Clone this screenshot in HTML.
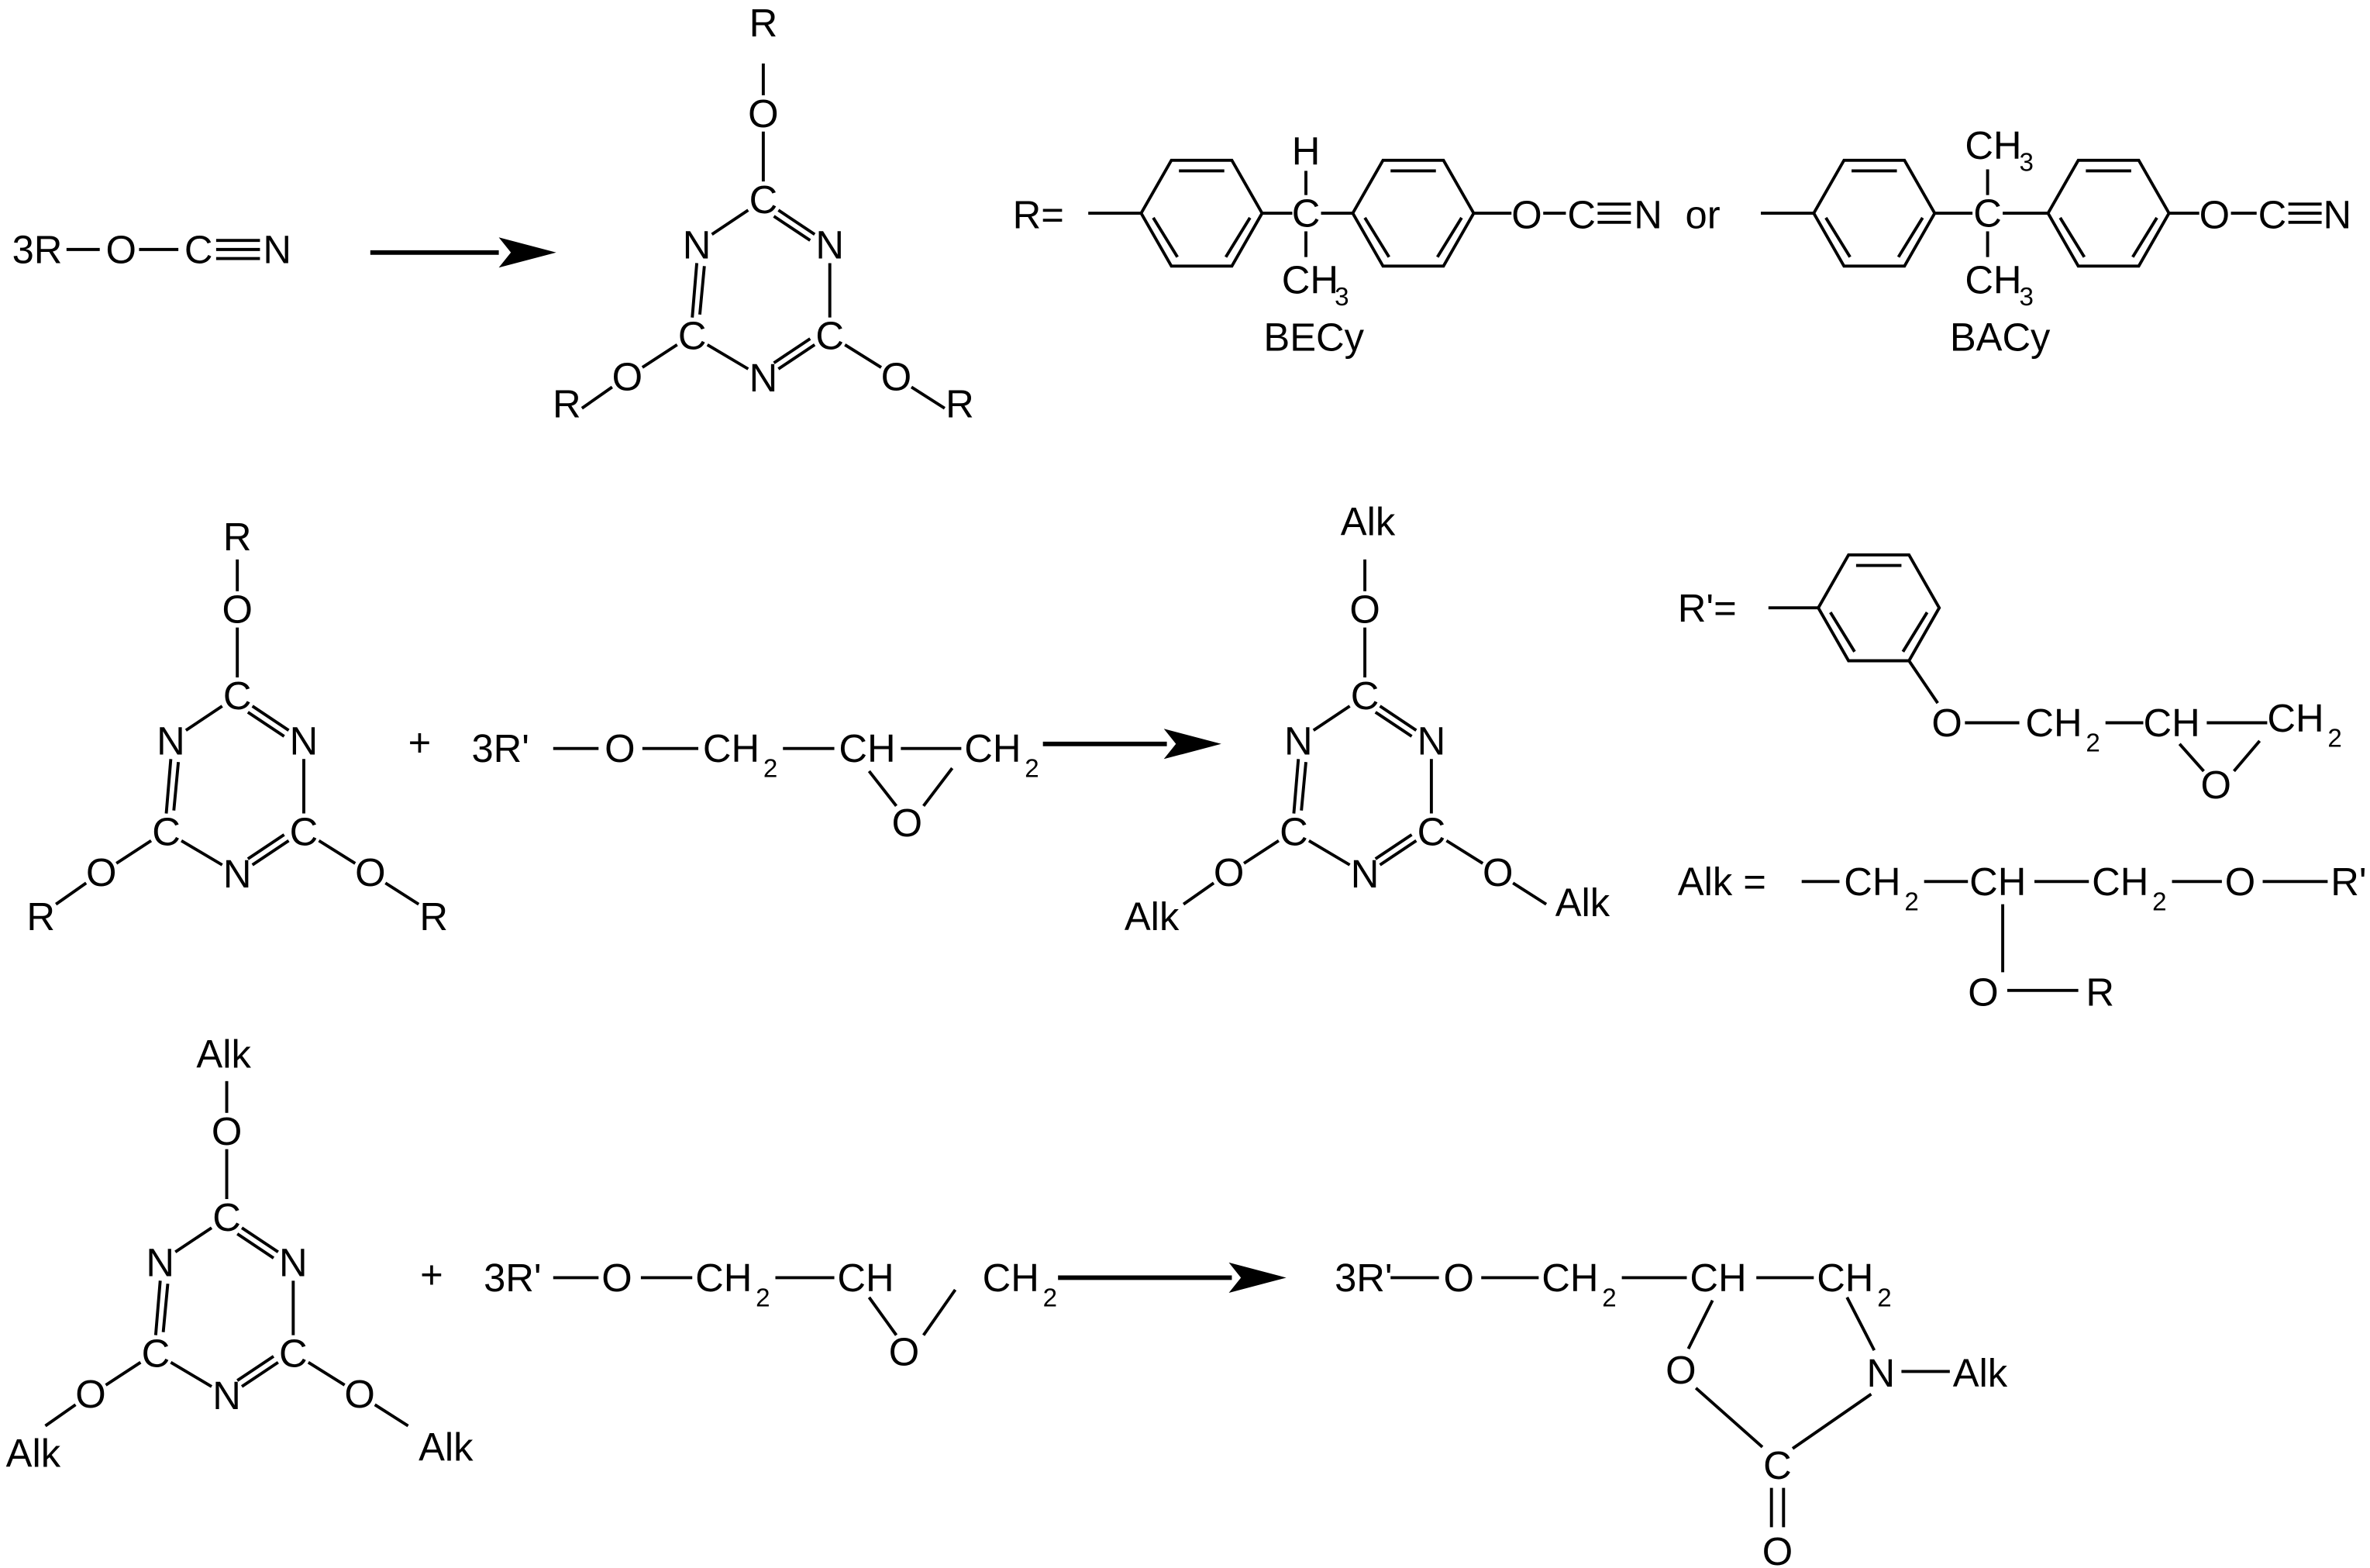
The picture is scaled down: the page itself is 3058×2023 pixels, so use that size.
<!DOCTYPE html>
<html><head><meta charset="utf-8"><style>
html,body{margin:0;padding:0;background:#fff;}
svg{display:block;}
text{font-family:"Liberation Sans",Arial,sans-serif;font-size:26px;fill:#000;}
.s{font-size:17px;}
</style></head><body>
<svg width="3058" height="2023" viewBox="0 0 1568 1037" preserveAspectRatio="none" xmlns="http://www.w3.org/2000/svg">
<defs>
<g id="ring" stroke="#000" stroke-width="2" fill="none">
<line x1="-10" y1="7" x2="-34" y2="23"/>
<line x1="10" y1="7" x2="34" y2="23"/>
<line x1="7" y1="11" x2="31" y2="27"/>
<line x1="-44" y1="42" x2="-47" y2="78"/>
<line x1="-39" y1="44" x2="-42" y2="76"/>
<line x1="44" y1="42" x2="44" y2="78"/>
<line x1="-37" y1="96" x2="-10" y2="112"/>
<line x1="34" y1="96" x2="10" y2="112"/>
<line x1="31" y1="92" x2="7" y2="108"/>
<line x1="0" y1="-12" x2="0" y2="-45"/>
<line x1="0" y1="-69" x2="0" y2="-90"/>
<line x1="-57" y1="96" x2="-80" y2="111"/>
<line x1="-100" y1="124" x2="-120" y2="138"/>
<line x1="54" y1="96" x2="78" y2="111"/>
<line x1="98" y1="124" x2="120" y2="138"/>
</g>
<g id="ringtext">
<text x="0" y="9" text-anchor="middle">C</text>
<text x="-44" y="39" text-anchor="middle">N</text>
<text x="44" y="39" text-anchor="middle">N</text>
<text x="-47" y="99" text-anchor="middle">C</text>
<text x="44" y="99" text-anchor="middle">C</text>
<text x="0" y="127" text-anchor="middle">N</text>
<text x="0" y="-48" text-anchor="middle">O</text>
<text x="-90" y="126" text-anchor="middle">O</text>
<text x="88" y="126" text-anchor="middle">O</text>
</g>
<g id="bz" stroke="#000" stroke-width="2" fill="none">
<polygon points="-40,0 -20,-35 20,-35 40,0 20,35 -20,35"/>
<line x1="-15" y1="-28" x2="15" y2="-28"/>
<line x1="32" y1="3" x2="16" y2="29"/>
<line x1="-16" y1="29" x2="-32" y2="3"/>
</g>
<marker id="ah" markerWidth="10" markerHeight="8" refX="10" refY="4" orient="auto" markerUnits="userSpaceOnUse"><path d="M0,0 L10,4 L0,8z" fill="#000"/></marker>
</defs>

<!-- Row 1 -->
<text x="8" y="174">3R</text>
<line x1="44" y1="165" x2="66" y2="165" stroke="#000" stroke-width="2"/>
<text x="70" y="174">O</text>
<line x1="92" y1="165" x2="118" y2="165" stroke="#000" stroke-width="2"/>
<text x="122" y="174">C</text>
<g stroke="#000" stroke-width="2"><line x1="143" y1="159" x2="172" y2="159"/><line x1="143" y1="165" x2="172" y2="165"/><line x1="143" y1="171" x2="172" y2="171"/></g>
<text x="174" y="174">N</text>
<line x1="245" y1="167" x2="330" y2="167" stroke="#000" stroke-width="3"/>
<path d="M330,157 L368,167 L330,177 L338,167z" fill="#000"/>

<use href="#ring" transform="translate(505,132)"/>
<use href="#ringtext" transform="translate(505,132)"/>
<text x="505" y="24" text-anchor="middle">R</text>
<text x="375" y="276" text-anchor="middle">R</text>
<text x="635" y="276" text-anchor="middle">R</text>

<text x="670" y="151">R=</text>
<line x1="720" y1="141" x2="755" y2="141" stroke="#000" stroke-width="2"/>
<use href="#bz" transform="translate(795,141)"/>
<line x1="835" y1="141" x2="855" y2="141" stroke="#000" stroke-width="2"/>
<text x="864" y="150" text-anchor="middle">C</text>
<text x="864" y="109" text-anchor="middle">H</text>
<line x1="864" y1="113" x2="864" y2="129" stroke="#000" stroke-width="2"/>
<line x1="864" y1="153" x2="864" y2="170" stroke="#000" stroke-width="2"/>
<text x="848" y="194">CH</text><text x="883" y="202" class="s">3</text>
<line x1="874" y1="141" x2="895" y2="141" stroke="#000" stroke-width="2"/>
<use href="#bz" transform="translate(935,141)"/>
<line x1="975" y1="141" x2="1000" y2="141" stroke="#000" stroke-width="2"/>
<text x="1000" y="151">O</text>
<line x1="1021" y1="141" x2="1036" y2="141" stroke="#000" stroke-width="2"/>
<text x="1037" y="151">C</text>
<g stroke="#000" stroke-width="2"><line x1="1057" y1="135" x2="1079" y2="135"/><line x1="1057" y1="141" x2="1079" y2="141"/><line x1="1057" y1="147" x2="1079" y2="147"/></g>
<text x="1081" y="151">N</text>
<text x="1115" y="151">or</text>
<text x="836" y="232">BECy</text>

<line x1="1165" y1="141" x2="1200" y2="141" stroke="#000" stroke-width="2"/>
<use href="#bz" transform="translate(1240,141)"/>
<line x1="1280" y1="141" x2="1305" y2="141" stroke="#000" stroke-width="2"/>
<text x="1315" y="150" text-anchor="middle">C</text>
<line x1="1315" y1="112" x2="1315" y2="129" stroke="#000" stroke-width="2"/>
<line x1="1315" y1="153" x2="1315" y2="170" stroke="#000" stroke-width="2"/>
<text x="1300" y="105">CH</text><text x="1336" y="113" class="s">3</text>
<text x="1300" y="194">CH</text><text x="1336" y="202" class="s">3</text>
<line x1="1325" y1="141" x2="1355" y2="141" stroke="#000" stroke-width="2"/>
<use href="#bz" transform="translate(1395,141)"/>
<line x1="1435" y1="141" x2="1455" y2="141" stroke="#000" stroke-width="2"/>
<text x="1455" y="151">O</text>
<line x1="1476" y1="141" x2="1493" y2="141" stroke="#000" stroke-width="2"/>
<text x="1494" y="151">C</text>
<g stroke="#000" stroke-width="2"><line x1="1514" y1="135" x2="1536" y2="135"/><line x1="1514" y1="141" x2="1536" y2="141"/><line x1="1514" y1="147" x2="1536" y2="147"/></g>
<text x="1537" y="151">N</text>
<text x="1290" y="232">BACy</text>

<!-- Row 2 -->
<use href="#ring" transform="translate(157,460)"/>
<use href="#ringtext" transform="translate(157,460)"/>
<text x="157" y="364" text-anchor="middle">R</text>
<text x="27" y="615" text-anchor="middle">R</text>
<text x="287" y="615" text-anchor="middle">R</text>
<text x="270" y="500">+</text>
<text x="312" y="504">3R'</text>
<line x1="366" y1="495" x2="396" y2="495" stroke="#000" stroke-width="2"/>
<text x="400" y="504">O</text>
<line x1="425" y1="495" x2="462" y2="495" stroke="#000" stroke-width="2"/>
<text x="465" y="504">CH</text><text x="505" y="514" class="s">2</text>
<line x1="518" y1="495" x2="552" y2="495" stroke="#000" stroke-width="2"/>
<text x="555" y="504">CH</text>
<line x1="596" y1="495" x2="636" y2="495" stroke="#000" stroke-width="2"/>
<text x="638" y="504">CH</text><text x="678" y="514" class="s">2</text>
<text x="590" y="553">O</text>
<line x1="575" y1="510" x2="593" y2="533" stroke="#000" stroke-width="2"/>
<line x1="630" y1="508" x2="611" y2="533" stroke="#000" stroke-width="2"/>
<line x1="690" y1="492" x2="772" y2="492" stroke="#000" stroke-width="3"/>
<path d="M770,482 L808,492 L770,502 L778,492z" fill="#000"/>

<use href="#ring" transform="translate(903,460)"/>
<use href="#ringtext" transform="translate(903,460)"/>
<text x="905" y="354" text-anchor="middle">Alk</text>
<text x="762" y="615" text-anchor="middle">Alk</text>
<text x="1047" y="606" text-anchor="middle">Alk</text>

<text x="1110" y="411">R'=</text>
<line x1="1170" y1="402" x2="1203" y2="402" stroke="#000" stroke-width="2"/>
<use href="#bz" transform="translate(1243,402)"/>
<line x1="1263" y1="437" x2="1282" y2="465" stroke="#000" stroke-width="2"/>
<text x="1278" y="487">O</text>
<line x1="1300" y1="478" x2="1336" y2="478" stroke="#000" stroke-width="2"/>
<text x="1340" y="487">CH</text><text x="1380" y="497" class="s">2</text>
<line x1="1393" y1="478" x2="1418" y2="478" stroke="#000" stroke-width="2"/>
<text x="1418" y="487">CH</text>
<line x1="1460" y1="478" x2="1500" y2="478" stroke="#000" stroke-width="2"/>
<text x="1500" y="484">CH</text><text x="1540" y="494" class="s">2</text>
<text x="1456" y="528">O</text>
<line x1="1442" y1="492" x2="1458" y2="510" stroke="#000" stroke-width="2"/>
<line x1="1495" y1="490" x2="1478" y2="510" stroke="#000" stroke-width="2"/>

<text x="1110" y="592">Alk =</text>
<line x1="1192" y1="583" x2="1217" y2="583" stroke="#000" stroke-width="2"/>
<text x="1220" y="592">CH</text><text x="1260" y="602" class="s">2</text>
<line x1="1273" y1="583" x2="1302" y2="583" stroke="#000" stroke-width="2"/>
<text x="1303" y="592">CH</text>
<line x1="1346" y1="583" x2="1382" y2="583" stroke="#000" stroke-width="2"/>
<text x="1384" y="592">CH</text><text x="1424" y="602" class="s">2</text>
<line x1="1437" y1="583" x2="1470" y2="583" stroke="#000" stroke-width="2"/>
<text x="1472" y="592">O</text>
<line x1="1497" y1="583" x2="1540" y2="583" stroke="#000" stroke-width="2"/>
<text x="1542" y="592">R'</text>
<line x1="1325" y1="598" x2="1325" y2="643" stroke="#000" stroke-width="2"/>
<text x="1302" y="665">O</text>
<line x1="1328" y1="655" x2="1375" y2="655" stroke="#000" stroke-width="2"/>
<text x="1380" y="665">R</text>

<!-- Row 3 -->
<use href="#ring" transform="translate(150,805)"/>
<use href="#ringtext" transform="translate(150,805)"/>
<text x="148" y="706" text-anchor="middle">Alk</text>
<text x="22" y="970" text-anchor="middle">Alk</text>
<text x="295" y="966" text-anchor="middle">Alk</text>
<text x="278" y="852">+</text>
<text x="320" y="854">3R'</text>
<line x1="366" y1="845" x2="396" y2="845" stroke="#000" stroke-width="2"/>
<text x="398" y="854">O</text>
<line x1="424" y1="845" x2="458" y2="845" stroke="#000" stroke-width="2"/>
<text x="460" y="854">CH</text><text x="500" y="864" class="s">2</text>
<line x1="513" y1="845" x2="552" y2="845" stroke="#000" stroke-width="2"/>
<text x="554" y="854">CH</text>
<text x="650" y="854">CH</text><text x="690" y="864" class="s">2</text>
<text x="588" y="903">O</text>
<line x1="575" y1="858" x2="593" y2="883" stroke="#000" stroke-width="2"/>
<line x1="632" y1="853" x2="611" y2="883" stroke="#000" stroke-width="2"/>
<line x1="700" y1="845" x2="815" y2="845" stroke="#000" stroke-width="3"/>
<path d="M813,835 L851,845 L813,855 L821,845z" fill="#000"/>

<text x="883" y="854">3R'</text>
<line x1="920" y1="845" x2="952" y2="845" stroke="#000" stroke-width="2"/>
<text x="955" y="854">O</text>
<line x1="980" y1="845" x2="1018" y2="845" stroke="#000" stroke-width="2"/>
<text x="1020" y="854">CH</text><text x="1060" y="864" class="s">2</text>
<line x1="1073" y1="845" x2="1116" y2="845" stroke="#000" stroke-width="2"/>
<text x="1118" y="854">CH</text>
<line x1="1162" y1="845" x2="1200" y2="845" stroke="#000" stroke-width="2"/>
<text x="1202" y="854">CH</text><text x="1242" y="864" class="s">2</text>
<line x1="1133" y1="860" x2="1117" y2="892" stroke="#000" stroke-width="2"/>
<line x1="1222" y1="858" x2="1240" y2="893" stroke="#000" stroke-width="2"/>
<text x="1102" y="915">O</text>
<text x="1235" y="917">N</text>
<line x1="1122" y1="918" x2="1166" y2="957" stroke="#000" stroke-width="2"/>
<line x1="1238" y1="922" x2="1186" y2="958" stroke="#000" stroke-width="2"/>
<line x1="1258" y1="907" x2="1290" y2="907" stroke="#000" stroke-width="2"/>
<text x="1292" y="917">Alk</text>
<text x="1176" y="978" text-anchor="middle">C</text>
<line x1="1172" y1="984" x2="1172" y2="1010" stroke="#000" stroke-width="2"/>
<line x1="1180" y1="984" x2="1180" y2="1010" stroke="#000" stroke-width="2"/>
<text x="1176" y="1035" text-anchor="middle">O</text>
</svg>
</body></html>
